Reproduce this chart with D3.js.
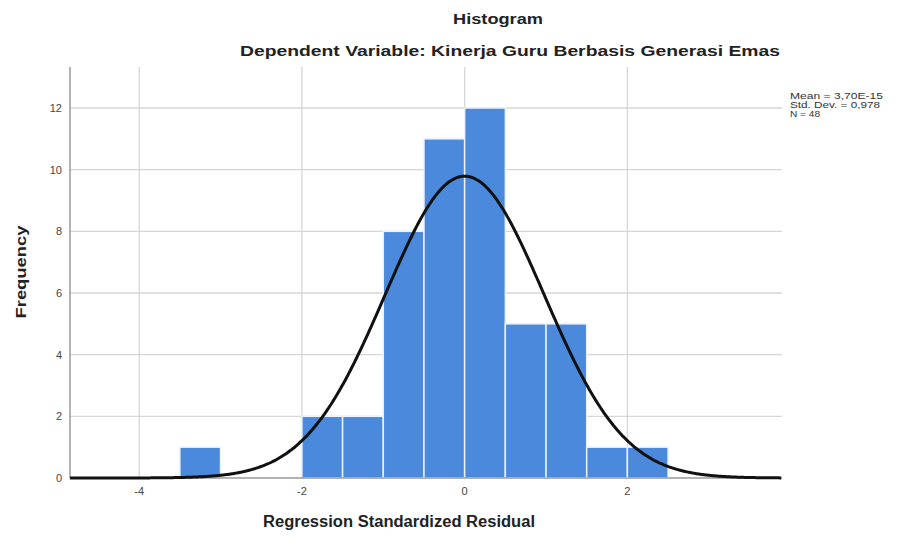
<!DOCTYPE html>
<html>
<head>
<meta charset="utf-8">
<script src="https://cdn.jsdelivr.net/npm/d3@7"></script>
<style>
  body { margin: 0; background: #fff; }
  text { font-family: "Liberation Sans", Arial, sans-serif; }
</style>
</head>
<body>
<div id="chart"></div>
<script>
// histogram bins (lower edge) and counts
const binStarts = [-3.5, -2, -1.5, -1, -0.5, 0, 0.5, 1, 1.5, 2];
const binWidth = 0.5;
const counts = [1, 2, 2, 8, 11, 12, 5, 5, 1, 1];
const xTicks = [-4, -2, 0, 2];
const yTicks = [0, 2, 4, 6, 8, 10, 12];
const mean = 3.70e-15;
const sd = 0.978;
const n = 48;
const legendLines = ["Mean = 3,70E-15", "Std. Dev. = 0,978", "N = 48"];

const width = 898, height = 538;
const svg = d3.select("#chart").append("svg")
    .attr("width", width)
    .attr("height", height);

const x = d3.scaleLinear().domain([-4.85, 3.9]).range([70, 782]);
const y = d3.scaleLinear().domain([0, 12]).range([478, 108]);
const yTop = 67;

// grid
svg.append("g").selectAll("line").data(yTicks.slice(1)).join("line")
    .attr("x1", x.range()[0]).attr("x2", x.range()[1])
    .attr("y1", d => y(d)).attr("y2", d => y(d))
    .attr("stroke", "#d6d6d6").attr("stroke-width", 1.3);
svg.append("g").selectAll("line").data(xTicks).join("line")
    .attr("x1", d => x(d)).attr("x2", d => x(d))
    .attr("y1", yTop).attr("y2", y(0))
    .attr("stroke", "#d6d6d6").attr("stroke-width", 1.3);

// bars
svg.append("g").selectAll("rect").data(binStarts).join("rect")
    .attr("x", d => x(d))
    .attr("width", d => x(d + binWidth) - x(d))
    .attr("y", (d, i) => y(counts[i]))
    .attr("height", (d, i) => y(0) - y(counts[i]))
    .attr("fill", "#4a89dc")
    .attr("stroke", "#eaf2ff")
    .attr("stroke-width", 1.5);

// axes
svg.append("line")
    .attr("x1", x.range()[0]).attr("x2", x.range()[0])
    .attr("y1", yTop).attr("y2", y(0))
    .attr("stroke", "#9a9a9a").attr("stroke-width", 1.5);
svg.append("line")
    .attr("x1", x.range()[0]).attr("x2", x.range()[1])
    .attr("y1", y(0)).attr("y2", y(0))
    .attr("stroke", "#9a9a9a").attr("stroke-width", 1.5);

svg.append("g").selectAll("text").data(yTicks).join("text")
    .attr("x", 62).attr("y", d => y(d) + 4)
    .attr("text-anchor", "end")
    .attr("font-size", 11).attr("fill", "#444")
    .text(d => d);
svg.append("g").selectAll("text").data(xTicks).join("text")
    .attr("x", d => x(d)).attr("y", 495)
    .attr("text-anchor", "middle")
    .attr("font-size", 11).attr("fill", "#444")
    .text(d => d);

// normal curve
const pts = d3.range(x.domain()[0], x.domain()[1] + 0.001, 0.02);
const normal = v => n * binWidth * Math.exp(-0.5 * ((v - mean) / sd) ** 2) / (sd * Math.sqrt(2 * Math.PI));
svg.append("path")
    .datum(pts)
    .attr("fill", "none")
    .attr("stroke", "#111")
    .attr("stroke-width", 3)
    .attr("d", d3.line().x(d => x(d)).y(d => y(normal(d))).curve(d3.curveBasis));

// titles (the reference text is a little stretched, so fix its length)
function label(txt, xPos, yPos, size, len, rotate) {
  const t = svg.append("text")
      .attr("text-anchor", "middle").attr("font-size", size).attr("font-weight", "bold")
      .attr("fill", "#222")
      .attr("textLength", len).attr("lengthAdjust", "spacingAndGlyphs")
      .text(txt);
  if (rotate) t.attr("transform", `translate(${xPos},${yPos}) rotate(-90)`);
  else t.attr("x", xPos).attr("y", yPos);
}
label("Histogram", 498, 24, 14, 90);
label("Dependent Variable: Kinerja Guru Berbasis Generasi Emas", 510, 56, 15.5, 540);
label("Regression Standardized Residual", 399, 527, 16, 272);
label("Frequency", 26, 272, 15, 93, true);

// legend
svg.append("g").selectAll("text").data(legendLines).join("text")
    .attr("x", 790).attr("y", (d, i) => 99 + i * 9)
    .attr("font-size", 8.5).attr("fill", "#333")
    .attr("textLength", (d, i) => [93, 90, 30][i])
    .attr("lengthAdjust", "spacingAndGlyphs")
    .text(d => d);
</script>
</body>
</html>
